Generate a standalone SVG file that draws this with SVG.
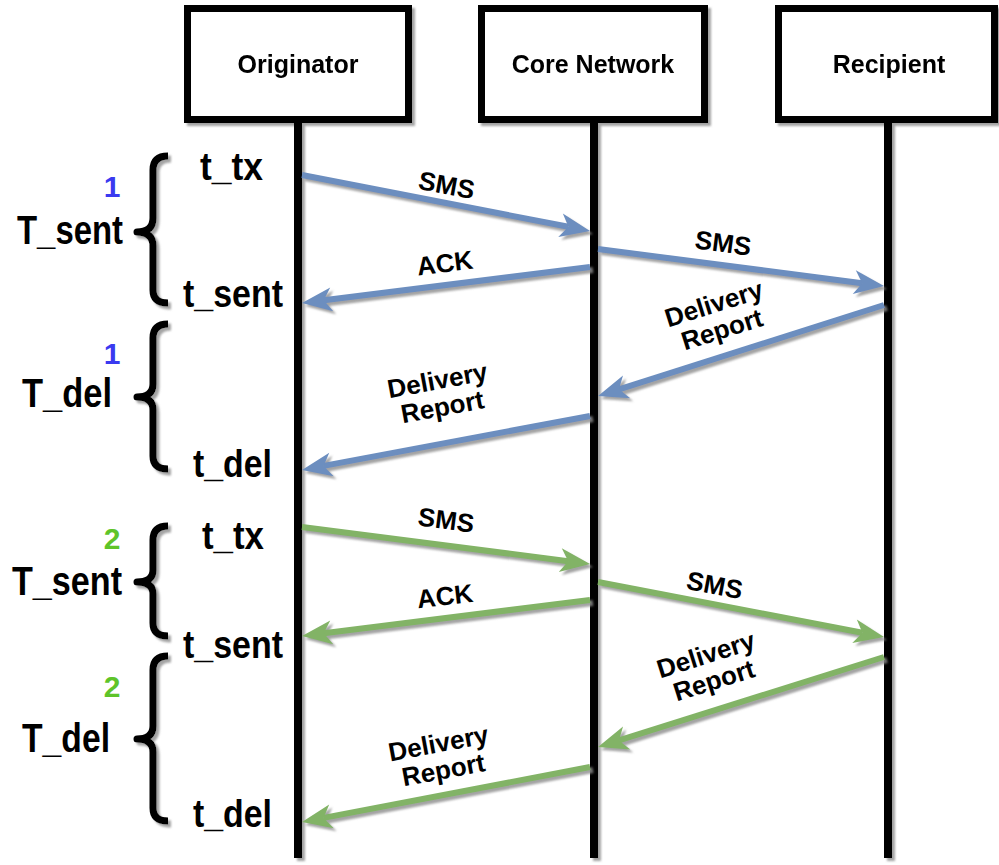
<svg xmlns="http://www.w3.org/2000/svg" width="999" height="865" viewBox="0 0 999 865">
<defs>
<filter id="sh" x="-10%" y="-10%" width="130%" height="130%">
<feDropShadow dx="3" dy="3" stdDeviation="0.8" flood-color="#8c8c8c" flood-opacity="0.8"/>
</filter>
<marker id="ab" markerUnits="userSpaceOnUse" viewBox="-10 -14 34 28" markerWidth="34" markerHeight="28" refX="0" refY="0" orient="auto" overflow="visible">
<path d="M22,0 L-8,-12 L0,0 L-8,12 Z" fill="#6c8ebf"/>
</marker>
<marker id="ag" markerUnits="userSpaceOnUse" viewBox="-10 -14 34 28" markerWidth="34" markerHeight="28" refX="0" refY="0" orient="auto" overflow="visible">
<path d="M22,0 L-8,-12 L0,0 L-8,12 Z" fill="#82b366"/>
</marker>
</defs>
<style>
.box{fill:#fff;stroke:#000;stroke-width:7}
.life{fill:#000}
.lbl{font-family:"Liberation Sans",Arial,sans-serif;font-weight:bold;fill:#000}
.bl{stroke:#6c8ebf;stroke-width:6;fill:none;marker-end:url(#ab)}
.gr{stroke:#82b366;stroke-width:6;fill:none;marker-end:url(#ag)}
.brace{fill:none;stroke:#000;stroke-width:7;stroke-linejoin:round}
</style>
<rect width="999" height="865" fill="#fff"/>

<g id="originator" filter="url(#sh)">
<rect class="life" x="294" y="120" width="8" height="738"/>
<rect class="box" x="187.5" y="8.5" width="221" height="111"/>
<text class="lbl" x="298" y="73" font-size="25" text-anchor="middle">Originator</text>
</g>
<g id="core" filter="url(#sh)">
<rect class="life" x="590" y="120" width="8" height="738"/>
<rect class="box" x="481.5" y="8.5" width="223" height="111"/>
<text class="lbl" x="593" y="73" font-size="25" text-anchor="middle">Core Network</text>
</g>
<g id="recipient" filter="url(#sh)">
<rect class="life" x="884" y="120" width="8" height="738"/>
<rect class="box" x="778.5" y="8.5" width="216" height="111"/>
<text class="lbl" x="889" y="73" font-size="25" text-anchor="middle">Recipient</text>
</g>

<g id="connectors" filter="url(#sh)">
<line class="bl" x1="302" y1="175" x2="568.4" y2="226.8"/>
<line class="bl" x1="590" y1="267" x2="323.8" y2="300.3"/>
<line class="bl" x1="598" y1="249" x2="862.2" y2="283.2"/>
<line class="bl" x1="884" y1="305" x2="619" y2="389.3"/>
<line class="bl" x1="590" y1="416" x2="323.6" y2="465.9"/>
<line class="gr" x1="302" y1="527" x2="568.2" y2="561.2"/>
<line class="gr" x1="590" y1="600" x2="323.8" y2="633.3"/>
<line class="gr" x1="598" y1="582" x2="862.4" y2="632.8"/>
<line class="gr" x1="884" y1="657" x2="619" y2="740.4"/>
<line class="gr" x1="590" y1="767" x2="323.6" y2="817.9"/>
</g>

<g id="arrow-labels" class="lbl" font-size="26" text-anchor="middle">
<text transform="translate(445,194) rotate(10.5)">SMS</text>
<text transform="translate(446,272) rotate(-7)">ACK</text>
<text transform="translate(722,252) rotate(7.5)">SMS</text>
<text transform="translate(718,317) rotate(-17.5)"><tspan x="0" y="-5">Delivery</tspan><tspan x="0" y="22">Report</tspan></text>
<text transform="translate(440,394) rotate(-10.5)"><tspan x="0" y="-5">Delivery</tspan><tspan x="0" y="22">Report</tspan></text>
<text transform="translate(445,529) rotate(7.5)">SMS</text>
<text transform="translate(446,605) rotate(-6.7)">ACK</text>
<text transform="translate(713,594) rotate(10.8)">SMS</text>
<text transform="translate(710,668) rotate(-17.5)"><tspan x="0" y="-5">Delivery</tspan><tspan x="0" y="22">Report</tspan></text>
<text transform="translate(441,757) rotate(-10.6)"><tspan x="0" y="-5">Delivery</tspan><tspan x="0" y="22">Report</tspan></text>
</g>

<g id="braces" filter="url(#sh)">
<path class="brace" d="M168,156 Q153,156 153,170 V218 Q153,232 137,232 Q153,232 153,246 V290 Q153,303 168,303"/>
<path class="brace" d="M168,324 Q153,324 153,338 V384 Q153,397 137,397 Q153,397 153,410 V456 Q153,469 168,469"/>
<path class="brace" d="M168,526 Q153,526 153,540 V570 Q153,582 137,582 Q153,582 153,594 V623 Q153,636 168,636"/>
<path class="brace" d="M168,656 Q153,656 153,670 V726 Q153,739 137,739 Q153,739 153,752 V808 Q153,821 168,821"/>
</g>

<g id="time-labels" class="lbl">
<text x="112" y="197" font-size="30" fill="#3a3af0" text-anchor="middle">1</text>
<text x="17" y="244" font-size="40" textLength="106" lengthAdjust="spacingAndGlyphs">T_sent</text>
<text x="200" y="180" font-size="38" textLength="63" lengthAdjust="spacingAndGlyphs">t_tx</text>
<text x="183" y="307" font-size="38" textLength="100" lengthAdjust="spacingAndGlyphs">t_sent</text>
<text x="112" y="364" font-size="30" fill="#3a3af0" text-anchor="middle">1</text>
<text x="22" y="407" font-size="40" textLength="90" lengthAdjust="spacingAndGlyphs">T_del</text>
<text x="193" y="477" font-size="38" textLength="79" lengthAdjust="spacingAndGlyphs">t_del</text>
<text x="112" y="549" font-size="30" fill="#5ec42a" text-anchor="middle">2</text>
<text x="12" y="595" font-size="40" textLength="110" lengthAdjust="spacingAndGlyphs">T_sent</text>
<text x="202" y="549" font-size="38" textLength="62" lengthAdjust="spacingAndGlyphs">t_tx</text>
<text x="183" y="658" font-size="38" textLength="100" lengthAdjust="spacingAndGlyphs">t_sent</text>
<text x="112" y="697" font-size="30" fill="#5ec42a" text-anchor="middle">2</text>
<text x="22" y="752" font-size="40" textLength="88" lengthAdjust="spacingAndGlyphs">T_del</text>
<text x="193" y="827" font-size="38" textLength="79" lengthAdjust="spacingAndGlyphs">t_del</text>
</g>
</svg>
